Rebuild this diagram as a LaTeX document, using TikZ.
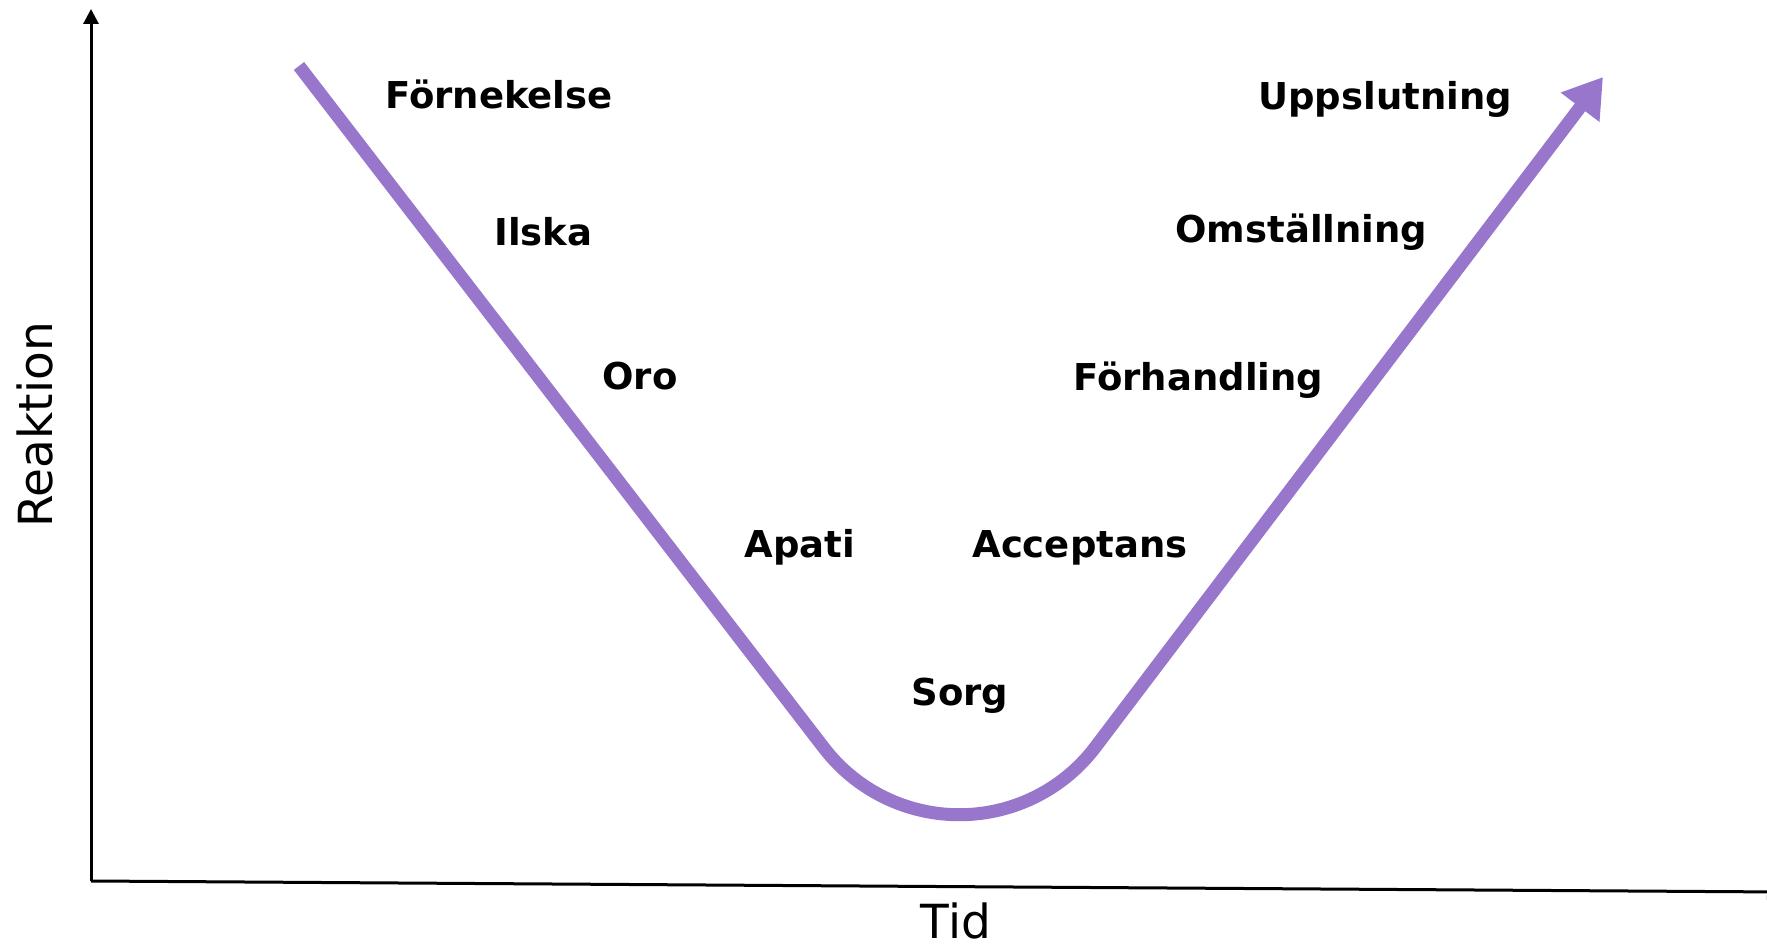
\documentclass[tikz,border=0pt]{standalone}
\usepackage{fontspec}
\setmainfont{DejaVu Sans}
\usetikzlibrary{arrows.meta}
\definecolor{curvepurple}{RGB}{151,118,204}
\begin{document}
\begin{tikzpicture}[x=0.5pt,y=-0.5pt,
  stage/.style={font=\bfseries\fontsize{18.5}{22}\selectfont, inner sep=0pt, anchor=base west},
  axislabel/.style={font=\fontsize{23.5}{28}\selectfont, inner sep=0pt},
  axisline/.style={line width=1.5pt, black},
  curveline/.style={line width=6.5pt, curvepurple}]
\useasboundingbox (0,0) rectangle (1767,945);
% axes
\coordinate (O) at (91,881);
\coordinate (ytop) at (91,9);
\coordinate (xend) at (1782,892);
\draw[axisline,-{Triangle[length=7.5pt,width=7.5pt]}] (O) -- (ytop);
\draw[axisline,-{Triangle[length=7.5pt,width=7.5pt]}] (O) -- (xend);
\node[axislabel, rotate=90] (reaktion) at (35,425) {Reaktion};
\node[axislabel, anchor=base] (tid) at (956,938) {Tid};
% curve
\coordinate (s) at (299,66);
\coordinate (t1) at (824,748);
\coordinate (tip) at (1603,77);
\draw[curveline,-{Triangle[length=19pt,width=23pt]}] (s) -- (t1)
  arc[start angle=142.5, end angle=37.5, radius=170.6] -- (tip);
% stages
\node[stage] (fornekelse) at (385,109) {Förnekelse};
\node[stage] (ilska) at (494,246) {Ilska};
\node[stage] (oro) at (602,390) {Oro};
\node[stage] (apati) at (744,558) {Apati};
\node[stage] (sorg) at (911,706) {Sorg};
\node[stage] (acceptans) at (972,558) {Acceptans};
\node[stage] (forhandling) at (1073,391) {Förhandling};
\node[stage] (omstallning) at (1175,243) {Omställning};
\node[stage] (uppslutning) at (1258,110) {Uppslutning};
\end{tikzpicture}
\end{document}
